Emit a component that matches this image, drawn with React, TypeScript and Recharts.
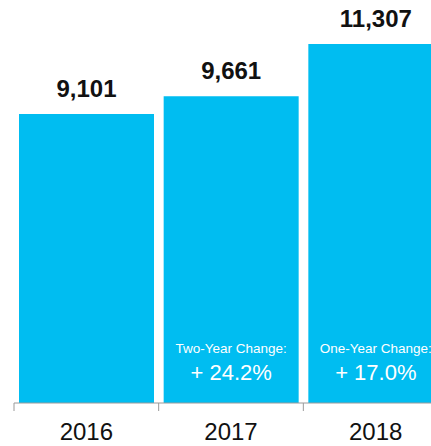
import React from "react";
import { BarChart, Bar, XAxis, YAxis, LabelList } from "recharts";

const years = ["2016", "2017", "2018"];
const totals = [9101, 9661, 11307];
const changeTitles = ["", "Two-Year Change:", "One-Year Change:"];
const changeValues = ["", "+ 24.2%", "+ 17.0%"];

const data = years.map((year, i) => ({
  year,
  total: totals[i],
  note: i,
}));

const BAR_COLOR = "#00BDF1";
const FONT = "'Liberation Sans', Arial, Helvetica, sans-serif";

const YearTick = (props: any) => {
  const { x, y, payload } = props;
  const half = payload && payload.offset ? payload.offset : 0;
  const axisY = y - 20;
  return (
    <g>
      <line x1={x - half} x2={x - half} y1={axisY} y2={axisY + 8} stroke="#9a9a9a" strokeWidth={1} />
      <text x={x} y={y} dy="0.71em" textAnchor="middle" fill="#111" fontSize={24} fontFamily={FONT}>
        {payload.value}
      </text>
    </g>
  );
};

const ChangeNote = (props: any) => {
  const { x, y, width, height, value } = props;
  const title = changeTitles[value];
  if (!title) return null;
  const cx = x + width / 2;
  const bottom = y + height;
  return (
    <g fontFamily={FONT} fill="#ffffff" textAnchor="middle">
      <text x={cx} y={bottom - 50} fontSize={13.5} fontWeight={300}>
        {title}
      </text>
      <text x={cx} y={bottom - 23} fontSize={22} fontWeight={300}>
        {changeValues[value]}
      </text>
    </g>
  );
};

export default function App() {
  return (
    <div
      style={{
        position: "absolute",
        left: 0,
        top: 0,
        width: 431,
        height: 446,
        overflow: "hidden",
        background: "#fff",
      }}
    >
      <BarChart
        width={448}
        height={446}
        data={data}
        margin={{ top: 22, right: 0, left: 14, bottom: 0 }}
        barCategoryGap={5}
      >
        <XAxis
          dataKey="year"
          height={43}
          axisLine={{ stroke: "#9a9a9a" }}
          tickLine={false}
          tickSize={8}
          tickMargin={12}
          tick={<YearTick />}
          interval={0}
        />
        <YAxis hide domain={[0, 12000]} />
        <Bar dataKey="total" fill={BAR_COLOR} isAnimationActive={false}>
          <LabelList
            dataKey="total"
            position="top"
            offset={17}
            formatter={(v: any) => Number(v).toLocaleString("en-US")}
            fill="#111"
            fontSize={24}
            fontWeight="bold"
            fontFamily={FONT}
          />
          <LabelList dataKey="note" content={<ChangeNote />} />
        </Bar>
      </BarChart>
    </div>
  );
}
